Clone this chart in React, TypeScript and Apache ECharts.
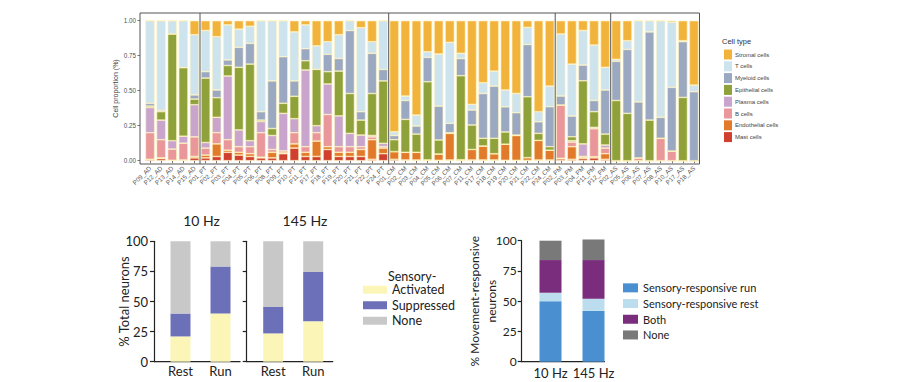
import React, { useEffect, useRef } from 'react';
import * as echarts from 'echarts';

// ---------- Top chart: cell proportions ----------
const samples = [
  'P09_AD', 'P12_AD', 'P13_AD', 'P14_AD', 'P15_AD',
  'P01_PT', 'P02_PT', 'P03_PT', 'P04_PT', 'P05_PT', 'P06_PT', 'P08_PT', 'P09_PT', 'P10_PT',
  'P11_PT', 'P17_PT', 'P18_PT', 'P19_PT', 'P20_PT', 'P21_PT', 'P22_PT', 'P24_PT',
  'P01_CM', 'P02_CM', 'P03_CM', 'P04_CM', 'P05_CM', 'P06_CM', 'P07_CM', 'P11_CM',
  'P17_CM', 'P18_CM', 'P19_CM', 'P20_CM', 'P21_CM', 'P22_CM', 'P24_CM',
  'P02_PM', 'P03_PM', 'P04_PM', 'P11_PM', 'P12_PM',
  'P02_AS', 'P05_AS', 'P06_AS', 'P07_AS', 'P08_AS', 'P10_AS', 'P17_AS', 'P18_AS',
];

const mast = [
  0.01, 0.015, 0.003, 0.005, 0.02,
  0.02, 0.03, 0.06, 0.04, 0.03, 0.02, 0.02, 0.05, 0.09, 0.03, 0.03, 0.08, 0.03, 0.03, 0.03, 0.01, 0.05,
  0.01, 0.005, 0.005, 0.002, 0.003, 0.005, 0.002, 0.005, 0.005, 0.005, 0.003, 0.003, 0.002, 0.005, 0.005,
  0.013, 0.01, 0.015, 0.02, 0.01,
  0, 0, 0, 0, 0, 0, 0, 0,
];
const endothelial = [
  0, 0.005, 0, 0, 0.01,
  0.02, 0.09, 0.015, 0.02, 0.02, 0.005, 0.04, 0.005, 0.03, 0.03, 0.11, 0.02, 0.03, 0.03, 0.05, 0.14, 0.04,
  0.055, 0.055, 0.055, 0.004, 0.045, 0.19, 0.005, 0.075, 0.1, 0.045, 0.115, 0.177, 0.02, 0.14, 0.07,
  0.004, 0.09, 0.01, 0.008, 0.04,
  0, 0, 0, 0, 0, 0, 0, 0,
];
const bCells = [
  0.19, 0.13, 0.08, 0.12, 0.14,
  0.05, 0.08, 0.075, 0.04, 0.05, 0.175, 0.02, 0.015, 0.08, 0.04, 0.06, 0.23, 0.04, 0.04, 0.02, 0.02, 0.01,
  0, 0, 0, 0, 0, 0, 0, 0, 0, 0, 0, 0, 0, 0, 0,
  0.381, 0.033, 0.005, 0.2, 0.04,
  0, 0, 0.02, 0, 0.16, 0.069, 0, 0,
];
const plasma = [
  0.18, 0.14, 0.06, 0.05, 0.23,
  0.04, 0.11, 0.455, 0.12, 0.043, 0.08, 0.1, 0.268, 0.1, 0.548, 0.05, 0.218, 0.22, 0.095, 0.083, 0.01, 0.024,
  0, 0, 0, 0, 0, 0, 0, 0, 0, 0, 0, 0, 0, 0, 0,
  0, 0.01, 0.09, 0.01, 0.022,
  0, 0, 0, 0, 0, 0, 0, 0,
];
const epithelial = [
  0.01, 0.06, 0.762, 0.49, 0.04,
  0.46, 0.14, 0.075, 0.447, 0.547, 0.01, 0.05, 0.072, 0.16, 0.066, 0.402, 0.088, 0.32, 0.285, 0.107, 0.3, 0.446,
  0.085, 0.235, 0.13, 0.558, 0.1, 0.005, 0.6, 0.175, 0.055, 0.11, 0.087, 0.003, 0.435, 0.05, 0.025,
  0, 0.028, 0.451, 0.112, 0.078,
  0.43, 0.338, 0, 0.29, 0, 0, 0.452, 0,
];
const myeloid = [
  0.02, 0.01, 0, 0, 0.03,
  0.046, 0.055, 0.04, 0.143, 0.148, 0.06, 0.34, 0.333, 0.11, 0.086, 0, 0.124, 0.09, 0.45, 0.06, 0.287, 0.082,
  0.03, 0.135, 0.058, 0.174, 0.242, 0.067, 0.123, 0.107, 0.32, 0.373, 0.18, 0.16, 0.373, 0.083, 0.286,
  0.064, 0.148, 0.112, 0.08, 0.315,
  0.28, 0.457, 0.4, 0.63, 0.15, 0.455, 0.398, 0.493,
];
const tCells = [
  0.59, 0.64, 0.095, 0.335, 0.43,
  0.294, 0.381, 0.25, 0.13, 0.122, 0.65, 0.43, 0.257, 0.35, 0.17, 0.168, 0.09, 0.17, 0.07, 0.6, 0.083, 0.348,
  0.027, 0.032, 0.078, 0.04, 0.372, 0.578, 0.037, 0.04, 0.077, 0.107, 0.12, 0.137, 0.122, 0.072, 0.147,
  0.443, 0.371, 0.247, 0.396, 0.162,
  0.014, 0.062, 0.58, 0.08, 0.69, 0.466, 0.007, 0.047,
];
const stromal = [
  0, 0, 0, 0, 0.1,
  0.07, 0.114, 0.03, 0.06, 0.04, 0, 0, 0, 0.08, 0.03, 0.18, 0.15, 0.1, 0, 0.05, 0.15, 0,
  0.793, 0.538, 0.674, 0.222, 0.238, 0.155, 0.233, 0.598, 0.443, 0.36, 0.495, 0.52, 0.048, 0.65, 0.467,
  0.095, 0.31, 0.07, 0.174, 0.333,
  0.276, 0.143, 0, 0, 0, 0.01, 0.143, 0.46,
];
const proportionTicks = [0, 0.25, 0.5, 0.75, 1];

// ---------- Bottom-left: % Total neurons ----------
const restRun = ['Rest', 'Run'];
const activated10 = [21, 40];
const suppressed10 = [19, 39];
const none10 = [60, 21];
const activated145 = [23.5, 33.5];
const suppressed145 = [22, 41];
const none145 = [54.5, 25.5];

// ---------- Bottom-right: % Movement-responsive neurons ----------
const freqs = ['10 Hz', '145 Hz'];
const respRun = [50, 42];
const respRest = [7, 10];
const both = [27, 32];
const noneMove = [16, 17];

const CELL_COLORS: Record<string, string> = {
  'Stromal cells': '#F2B33D',
  'T cells': '#CDE3EE',
  'Myeloid cells': '#9AA8C2',
  'Epithelial cells': '#8EA13A',
  'Plasma cells': '#C9A5CD',
  'B cells': '#E9979B',
  'Endothelial cells': '#E27A2C',
  'Mast cells': '#D13F2F',
};

const SANS = 'Liberation Sans, Arial, sans-serif';
const BFONT = 'Lato, "Open Sans", sans-serif';

function buildOption() {
  const cellSeriesDefs: [string, number[]][] = [
    ['Mast cells', mast],
    ['Endothelial cells', endothelial],
    ['B cells', bCells],
    ['Plasma cells', plasma],
    ['Epithelial cells', epithelial],
    ['Myeloid cells', myeloid],
    ['T cells', tCells],
    ['Stromal cells', stromal],
  ];
  const suffix = (s: string) => s.split('_')[1];
  const boundaries = samples
    .map((s, i) => (i > 0 && suffix(s) !== suffix(samples[i - 1]) ? i : -1))
    .filter((i) => i > 0);

  const cellSeries = cellSeriesDefs.map(([name, data]) => ({
    type: 'bar',
    name,
    stack: 'cell',
    xAxisIndex: 0,
    yAxisIndex: 0,
    data,
    barWidth: 9.2,
    itemStyle: { color: CELL_COLORS[name], borderColor: '#FFF3BC', borderWidth: 0.6 },
    emphasis: { disabled: true },
  }));

  const sepSeries = {
    type: 'custom',
    xAxisIndex: 0,
    yAxisIndex: 0,
    data: boundaries.map((b) => [b, 0]),
    encode: { x: 0, y: 1 },
    silent: true,
    z: 10,
    renderItem: (params: any, api: any) => {
      const idx = api.value(0);
      const bw = api.size([1, 0])[0];
      const x = api.coord([idx, 0])[0] - bw / 2;
      const cs = params.coordSys;
      return {
        type: 'line',
        shape: { x1: x, y1: cs.y, x2: x, y2: cs.y + cs.height },
        style: { stroke: '#555', lineWidth: 1 },
      };
    },
  };

  const bottomAxisStyle = { color: '#222', width: 1.2 };
  const mkBar = (name: string, data: number[], stack: string, gi: number, color: string, bw: number) => ({
    type: 'bar',
    name,
    stack,
    xAxisIndex: gi,
    yAxisIndex: gi,
    data,
    barWidth: bw,
    clip: false,
    itemStyle: { color },
    emphasis: { disabled: true },
  });

  return {
    animation: false,
    backgroundColor: '#fff',
    grid: [
      { left: 144.5, top: 13, width: 555, height: 151 },
      { left: 160.5, top: 241.3, width: 80, height: 120.4 },
      { left: 253.2, top: 241.3, width: 80, height: 120.4 },
      { left: 529, top: 240.7, width: 86, height: 121 },
    ],
    xAxis: [
      {
        type: 'category',
        gridIndex: 0,
        data: samples,
        axisLine: { show: false },
        axisTick: { show: true, length: 2.5, alignWithLabel: true, lineStyle: { color: '#555', width: 0.8 } },
        axisLabel: { interval: 0, rotate: 45, fontSize: 6.3, color: '#555', margin: 3, fontFamily: SANS },
      },
      {
        type: 'category',
        gridIndex: 1,
        data: restRun,
        axisLine: { show: false },
        axisTick: { show: false },
        axisLabel: { interval: 0, fontSize: 13, color: '#222', margin: 3, fontFamily: BFONT },
      },
      {
        type: 'category',
        gridIndex: 2,
        data: restRun,
        axisLine: { show: false },
        axisTick: { show: false },
        axisLabel: { interval: 0, fontSize: 13, color: '#222', margin: 3, fontFamily: BFONT },
      },
      {
        type: 'category',
        gridIndex: 3,
        data: freqs,
        axisLine: { show: false },
        axisTick: { show: false },
        axisLabel: { interval: 0, fontSize: 13, color: '#222', margin: 5, fontFamily: BFONT },
      },
    ],
    yAxis: [
      {
        type: 'value',
        gridIndex: 0,
        min: -0.0236,
        max: 1.055,
        offset: 4.5,
        splitLine: { show: false },
        axisLine: { show: false },
        axisTick: { show: true, length: 2.5, customValues: proportionTicks, lineStyle: { color: '#555', width: 0.8 } },
        axisLabel: {
          customValues: proportionTicks,
          formatter: (v: number) => v.toFixed(2),
          fontSize: 6.3,
          color: '#555',
          margin: 4,
          fontFamily: SANS,
        },
        name: 'Cell proportion (%)',
        nameLocation: 'middle',
        nameGap: 21,
        nameMoveOverlap: false,
        nameTextStyle: { fontSize: 7, color: '#444', fontFamily: SANS },
      },
      {
        type: 'value',
        gridIndex: 1,
        min: 0,
        max: 100,
        interval: 25,
        offset: 6.5,
        splitLine: { show: false },
        axisLine: { show: true, lineStyle: bottomAxisStyle },
        axisTick: { show: true, length: 4, lineStyle: bottomAxisStyle },
        axisLabel: { fontSize: 13, color: '#222', margin: 6, fontFamily: BFONT },
        name: '% Total neurons',
        nameLocation: 'middle',
        nameGap: 24,
        nameMoveOverlap: false,
        nameTextStyle: { fontSize: 13, color: '#222', fontFamily: BFONT },
      },
      {
        type: 'value',
        gridIndex: 2,
        min: 0,
        max: 100,
        interval: 25,
        offset: 6.5,
        splitLine: { show: false },
        axisLine: { show: true, lineStyle: bottomAxisStyle },
        axisTick: { show: true, length: 4, lineStyle: bottomAxisStyle },
        axisLabel: { show: false },
      },
      {
        type: 'value',
        gridIndex: 3,
        min: 0,
        max: 100,
        interval: 25,
        offset: 7.3,
        splitLine: { show: false },
        axisLine: { show: true, lineStyle: bottomAxisStyle },
        axisTick: { show: true, length: 4, lineStyle: bottomAxisStyle },
        axisLabel: { fontSize: 12, color: '#222', margin: 5, fontFamily: BFONT },
        name: '% Movement-responsive\nneurons',
        nameLocation: 'middle',
        nameGap: 22,
        nameMoveOverlap: false,
        nameTextStyle: { fontSize: 12, color: '#222', lineHeight: 17, fontFamily: BFONT },
      },
    ],
    legend: [
      {
        data: ['Stromal cells', 'T cells', 'Myeloid cells', 'Epithelial cells', 'Plasma cells', 'B cells', 'Endothelial cells', 'Mast cells'],
        orient: 'vertical',
        left: 719,
        top: 44.5,
        itemWidth: 8,
        itemHeight: 10,
        itemGap: 1.8,
        icon: 'rect',
        itemStyle: { borderWidth: 0 },
        textStyle: { fontSize: 6, color: '#444', fontFamily: SANS, padding: [0, 0, 0, -2] },
        selectedMode: false,
      },
      {
        data: [
          { name: 'Activated', itemStyle: { color: '#FBF6B8' } },
          { name: 'Suppressed', itemStyle: { color: '#6C70B8' } },
          { name: 'None', itemStyle: { color: '#C8C8C8' } },
        ],
        orient: 'vertical',
        left: 358,
        top: 277,
        itemWidth: 24,
        itemHeight: 8,
        itemGap: 0,
        icon: 'rect',
        textStyle: { fontSize: 12.5, color: '#222', lineHeight: 15.5, fontFamily: BFONT },
        selectedMode: false,
      },
      {
        data: [
          { name: 'Sensory-responsive run', itemStyle: { color: '#4A90D0' } },
          { name: 'Sensory-responsive rest', itemStyle: { color: '#BCDDEE' } },
          { name: 'Both', itemStyle: { color: '#7A2C7D' } },
          { name: 'None', itemStyle: { color: '#797979' } },
        ],
        orient: 'vertical',
        left: 618,
        top: 275,
        itemWidth: 15,
        itemHeight: 9,
        itemGap: 0,
        icon: 'rect',
        textStyle: { fontSize: 11, color: '#222', lineHeight: 15.7, fontFamily: BFONT },
        selectedMode: false,
      },
    ],
    graphic: [
      {
        type: 'rect',
        shape: { x: 140, y: 13, width: 559.5, height: 151 },
        style: { fill: 'none', stroke: '#555', lineWidth: 1 },
        z: 100,
        silent: true,
      },
      {
        type: 'text',
        x: 722,
        y: 41,
        style: { text: 'Cell type', fontSize: 7.5, fill: '#333', fontFamily: SANS, verticalAlign: 'middle' },
        silent: true,
      },
      {
        type: 'text',
        x: 201.5,
        y: 220,
        style: { text: '10 Hz', fontSize: 14, fill: '#222', fontFamily: BFONT, align: 'center', verticalAlign: 'middle' },
        silent: true,
      },
      {
        type: 'text',
        x: 305,
        y: 220,
        style: { text: '145 Hz', fontSize: 14, fill: '#222', fontFamily: BFONT, align: 'center', verticalAlign: 'middle' },
        silent: true,
      },
      {
        type: 'text',
        x: 388,
        y: 276,
        style: { text: 'Sensory-', fontSize: 12.5, fill: '#222', fontFamily: BFONT, verticalAlign: 'middle' },
        silent: true,
      },
      {
        type: 'line',
        shape: { x1: 154, y1: 361.7, x2: 240.5, y2: 361.7 },
        style: { stroke: '#222', lineWidth: 1.2 },
        silent: true,
      },
      {
        type: 'line',
        shape: { x1: 246.7, y1: 361.7, x2: 333.2, y2: 361.7 },
        style: { stroke: '#222', lineWidth: 1.2 },
        silent: true,
      },
      {
        type: 'line',
        shape: { x1: 521.7, y1: 361.7, x2: 605, y2: 361.7 },
        style: { stroke: '#222', lineWidth: 1.2 },
        silent: true,
      },
    ],
    series: [
      ...cellSeries,
      sepSeries,
      mkBar('Activated', activated10, 'hz10', 1, '#FBF6B8', 20),
      mkBar('Suppressed', suppressed10, 'hz10', 1, '#6C70B8', 20),
      mkBar('None', none10, 'hz10', 1, '#C8C8C8', 20),
      mkBar('Activated', activated145, 'hz145', 2, '#FBF6B8', 20),
      mkBar('Suppressed', suppressed145, 'hz145', 2, '#6C70B8', 20),
      mkBar('None', none145, 'hz145', 2, '#C8C8C8', 20),
      mkBar('Sensory-responsive run', respRun, 'move', 3, '#4A90D0', 22),
      mkBar('Sensory-responsive rest', respRest, 'move', 3, '#BCDDEE', 22),
      mkBar('Both', both, 'move', 3, '#7A2C7D', 22),
      mkBar('None', noneMove, 'move', 3, '#797979', 22),
    ],
  };
}

export default function App() {
  const ref = useRef<HTMLDivElement>(null);
  useEffect(() => {
    if (!ref.current) return;
    const chart = echarts.init(ref.current, null, { renderer: 'svg' });
    chart.setOption(buildOption() as any);
    return () => chart.dispose();
  }, []);
  return (
    <div
      ref={ref}
      style={{ position: 'fixed', left: 0, top: 0, width: 900, height: 382, background: '#fff' }}
    />
  );
}
